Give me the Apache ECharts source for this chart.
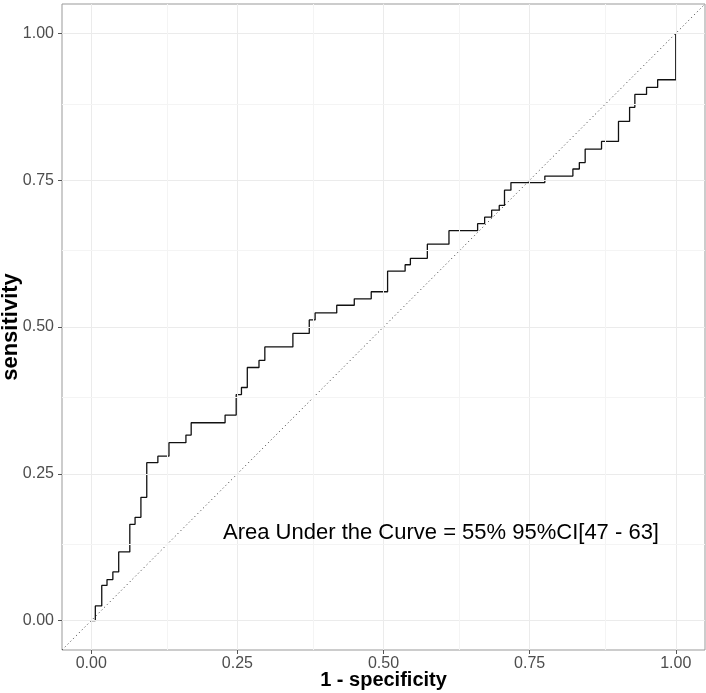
<!DOCTYPE html>
<html>
<head>
<meta charset="utf-8">
<script src="https://cdn.jsdelivr.net/npm/echarts@6/dist/echarts.min.js"></script>
<style>html,body{margin:0;padding:0;background:#fff}#c{width:706px;height:693px}</style>
</head>
<body>
<div id="c"></div>
<script>
// ROC curve step vertices (1 - specificity, sensitivity)
const fpr = [0, 0.007, 0.018, 0.027, 0.037, 0.047, 0.066, 0.075, 0.085, 0.095, 0.114, 0.133, 0.162, 0.171,
  0.229, 0.248, 0.257, 0.267, 0.287, 0.297, 0.345, 0.373, 0.383, 0.420, 0.450, 0.479, 0.507, 0.537, 0.546,
  0.575, 0.612, 0.661, 0.673, 0.685, 0.698, 0.707, 0.718, 0.776, 0.824, 0.835, 0.845, 0.873, 0.902, 0.921,
  0.930, 0.950, 0.969, 1.0];
const tpr = [0, 0.025, 0.060, 0.070, 0.083, 0.117, 0.164, 0.176, 0.210, 0.269, 0.280, 0.303, 0.316, 0.337,
  0.350, 0.385, 0.397, 0.431, 0.443, 0.466, 0.489, 0.512, 0.524, 0.537, 0.548, 0.560, 0.595, 0.606, 0.617,
  0.641, 0.664, 0.676, 0.687, 0.699, 0.707, 0.733, 0.746, 0.757, 0.769, 0.780, 0.803, 0.816, 0.850, 0.874,
  0.896, 0.908, 0.921, 1.0];
const diagonal = [[-0.05, -0.05], [1.05, 1.05]];
const majorTicks = [0, 0.25, 0.5, 0.75, 1];
const minorTicks = [0.125, 0.375, 0.625, 0.875];
const annotation = 'Area Under the Curve = 55% 95%CI[47 - 63]';
const xTitle = '1 - specificity';
const yTitle = 'sensitivity';

const chart = echarts.init(document.getElementById('c'), null, {renderer: 'canvas'});
const roc = fpr.map((x, i) => [x, tpr[i]]);
const gridLines = [];
majorTicks.forEach(v => { gridLines.push({xAxis: v, lineStyle: {color: '#ebebeb', width: 1, type: 'solid'}}); gridLines.push({yAxis: v, lineStyle: {color: '#ebebeb', width: 1, type: 'solid'}}); });
minorTicks.forEach(v => { gridLines.push({xAxis: v, lineStyle: {color: '#f4f4f4', width: 1, type: 'solid'}}); gridLines.push({yAxis: v, lineStyle: {color: '#f4f4f4', width: 1, type: 'solid'}}); });

const font = '"Liberation Sans", Arial, sans-serif';
function axis(name, gap, nameSize, labelMargin) {
  return {
    type: 'value', min: -0.05, max: 1.05,
    axisLine: {show: false, onZero: false},
    axisTick: {show: true, customValues: majorTicks, length: 4, lineStyle: {color: '#555', width: 1}},
    axisLabel: {customValues: majorTicks, formatter: v => v.toFixed(2), color: '#4d4d4d', fontSize: 16, fontFamily: font, margin: labelMargin},
    splitLine: {show: false},
    minorTick: {show: false},
    name: name, nameLocation: 'middle', nameGap: gap, nameMoveOverlap: false,
    nameTextStyle: {fontWeight: 'bold', fontSize: nameSize, color: '#000', fontFamily: font}
  };
}
chart.setOption({
  backgroundColor: '#fff',
  animation: false,
  grid: {left: 62, right: 1, top: 4, bottom: 43, containLabel: false, outerBoundsMode: 'none',
    show: true, borderColor: '#999', borderWidth: 1, backgroundColor: '#fff'},
  xAxis: axis(xTitle, 20, 20, 6),
  yAxis: axis(yTitle, 40, 22, 8),
  series: [
    {type: 'line', data: [], silent: true, z: 1,
      markLine: {silent: true, symbol: 'none', label: {show: false}, data: gridLines, animation: false,
        lineStyle: {type: 'solid'}, emphasis: {disabled: true}}},
    {type: 'line', data: diagonal, showSymbol: false, silent: true, z: 2,
      lineStyle: {color: '#333', width: 1, type: [1, 3]}},
    {type: 'line', data: roc, step: 'end', showSymbol: false, silent: true, z: 3,
      lineStyle: {color: '#111', width: 1.3}}
  ],
  graphic: [{type: 'text', x: 441, y: 533, z: 100, style: {text: annotation, fontSize: 22, fontFamily: font, fill: '#000', textAlign: 'center', textVerticalAlign: 'middle'}}]
});
</script>
</body>
</html>
